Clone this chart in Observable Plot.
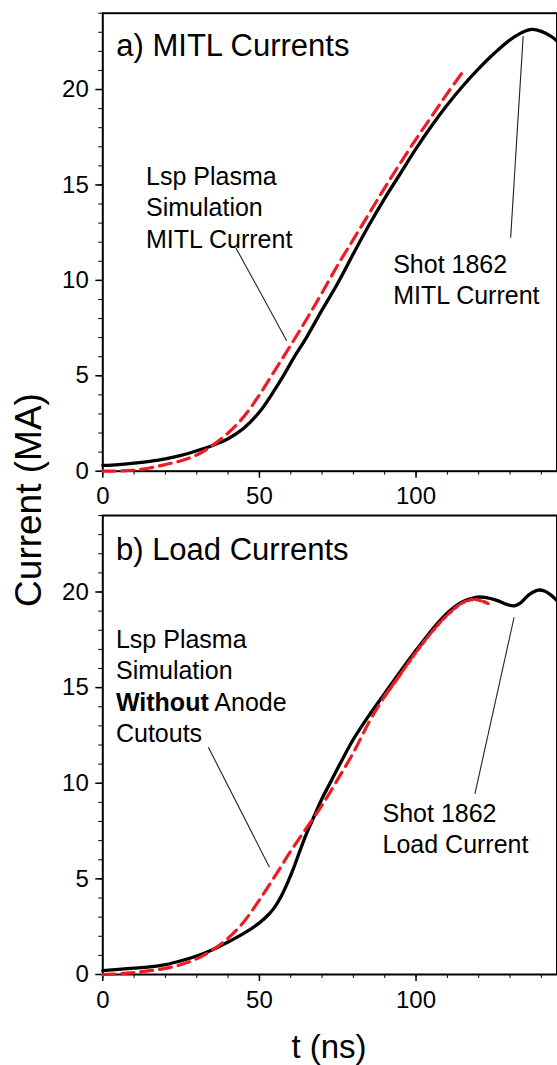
<!DOCTYPE html>
<html>
<head>
<meta charset="utf-8">
<script src="https://cdn.jsdelivr.net/npm/d3@7"></script>
<script src="https://cdn.jsdelivr.net/npm/@observablehq/plot@0.6"></script>
<style>
html, body { margin:0; padding:0; background:#fff; }
#chart { position:relative; width:557px; height:1065px; overflow:hidden; font-family:"Liberation Sans", Arial, sans-serif; color:#000; }
#chart svg { position:absolute; left:0; }
#ylabel { position:absolute; left:28px; top:500px; transform: translate(-50%,-50%) rotate(-90deg); font-size:37px; white-space:nowrap; line-height:1; }
#xlabel { position:absolute; left:329px; top:1047px; transform: translate(-50%,-50%); font-size:33px; white-space:nowrap; line-height:1.1; }
</style>
</head>
<body>
<div id="chart"><div id="ylabel">Current (MA)</div><div id="xlabel">t (ns)</div></div>
<script>
// ---------- data ----------
// Panel a: MITL currents
const tShotA = [0,5,10,15,20,25,30,35,40,45,50,55,58,61,65,70,75,80,85,90,95,100,105,110,115,120,125,130,134,137,140,143,145];
const iShotA = [0.3,0.35,0.42,0.52,0.65,0.83,1.07,1.35,1.7,2.25,3.1,4.3,5.1,5.95,7.0,8.45,9.85,11.4,12.9,14.3,15.6,16.9,18.1,19.2,20.2,21.1,21.9,22.6,23.0,23.15,23.05,22.8,22.55];
const tSimA = [0,5,10,15,20,25,30,35,40,45,50,55,60,65,70,75,80,85,90,95,100,105,110,115.5];
const iSimA = [0,0.01,0.05,0.17,0.35,0.55,0.85,1.35,2.0,2.85,4.0,5.3,6.6,7.95,9.35,10.8,12.15,13.5,14.85,16.15,17.4,18.6,19.8,21.05];

// Panel b: Load currents
const tShotB = [0,5,10,15,20,25,30,35,40,45,50,53,55,57,59,61,63,65,67,70,73,76,80,85,90,95,100,105,110,115,119,122,126,129,131.5,133.5,136,139,141,143,145];
const iShotB = [0.2,0.27,0.33,0.4,0.52,0.72,0.97,1.3,1.7,2.15,2.7,3.15,3.55,4.1,4.8,5.6,6.5,7.35,8.1,9.2,10.15,11.1,12.3,13.55,14.7,15.85,16.95,18.0,18.9,19.5,19.72,19.72,19.55,19.35,19.28,19.45,19.85,20.1,20.05,19.85,19.55];
const tSimB = [0,5,10,15,20,25,30,35,40,45,50,55,60,65,70,75,80,85,90,95,100,105,110,115,119,123];
const iSimB = [0,0.03,0.1,0.2,0.32,0.52,0.82,1.28,1.9,2.75,3.9,5.15,6.45,7.65,8.85,10.2,11.6,13.2,14.55,15.7,16.85,17.9,18.8,19.45,19.6,19.4];
const dotFromB = 92; // simulation drawn dotted beyond this time

// axes
const xDomain = [0, 145];
const yDomain = [0, 24];
const xMajorTicks = [0, 50, 100];
const xMinorTicks = [0,10,20,30,40,50,60,70,80,90,100,110,120,130,140];
const yMajorTicks = [0, 5, 10, 15, 20];
const yMinorTicks = [0,1,2,3,4,5,6,7,8,9,10,11,12,13,14,15,16,17,18,19,20,21,22,23,24];

// annotations (data coordinates)
const titleA = ["a) MITL Currents"]; const titleAT = [4.3]; const titleAI = [21.74];
const titleB = ["b) Load Currents"]; const titleBT = [4.2]; const titleBI = [21.65];
const notesA = ["Lsp Plasma\nSimulation\nMITL Current", "Shot 1862\nMITL Current"];
const notesAT = [13.8, 92.7];
const notesAI = [11.72, 8.76];
const notesB = ["Lsp Plasma\nSimulation\nWithout Anode\nCutouts", "Shot 1862\nLoad Current"];
const notesBT = [4.2, 89.3];
const notesBI = [12.15, 6.34];
const leadA_t1 = [42.5, 134.2], leadA_i1 = [11.7, 22.8], leadA_t2 = [58.7, 130.2], leadA_i2 = [6.84, 12.24];
const leadB_t1 = [33.7, 131.3], leadB_i1 = [11.88, 18.68], leadB_t2 = [53.2, 118.8], leadB_i2 = [5.61, 9.45];

// ---------- build ----------
const zip = (ts, is) => ts.map((t, k) => ({t, I: is[k]}));
const shotA = zip(tShotA, iShotA), simA = zip(tSimA, iSimA);
const shotB = zip(tShotB, iShotB), simB = zip(tSimB, iSimB);
const texts = (s, ts, is) => s.map((text, k) => ({text, t: ts[k], I: is[k]}));
const links = (t1, i1, t2, i2) => t1.map((_, k) => ({t1: t1[k], i1: i1[k], t2: t2[k], i2: i2[k]}));

const FONT = "Liberation Sans, Arial, sans-serif";
const RED = "#ed1c24";
const W = 557, H = 510, ML = 102.3, MR = 0.5;

function panel({top, bottom, shot, simMarks, title, notes, leads}) {
  const innerH = H - top - bottom, innerW = W - ML - MR;
  return Plot.plot({
    width: W, height: H,
    marginLeft: ML, marginRight: MR, marginTop: top, marginBottom: bottom,
    style: {fontFamily: FONT, fontSize: "24px", background: "transparent", color: "black", overflow: "visible"},
    x: {domain: xDomain, ticks: xMinorTicks, tickSize: 4, tickPadding: 12, label: null,
        tickFormat: d => xMajorTicks.includes(d) ? String(d) : ""},
    y: {domain: yDomain, ticks: yMinorTicks, tickSize: 4, tickPadding: 10, label: null,
        tickFormat: d => yMajorTicks.includes(d) ? String(d) : ""},
    marks: [
      // longer major ticks
      Plot.ruleX(xMajorTicks, {x: d => d, insetTop: innerH, insetBottom: -7, stroke: "black", strokeWidth: 1.5}),
      Plot.ruleY(yMajorTicks, {y: d => d, insetLeft: -7, insetRight: innerW, stroke: "black", strokeWidth: 1.5}),
      Plot.frame({stroke: "black", strokeWidth: 2}),
      Plot.line(shot, {x: "t", y: "I", stroke: "black", strokeWidth: 3.3, curve: "catmull-rom"}),
      ...simMarks,
      Plot.link(leads, {x1: "t1", y1: "i1", x2: "t2", y2: "i2", stroke: "#222", strokeWidth: 1.1}),
      Plot.text(title, {x: "t", y: "I", text: "text", textAnchor: "start", lineAnchor: "bottom", fontSize: 31, fill: "black"}),
      Plot.text(notes, {x: "t", y: "I", text: "text", textAnchor: "start", lineAnchor: "bottom", fontSize: 25, lineHeight: 1.26, fill: "black"})
    ]
  });
}

const chart = document.getElementById("chart");

const svgA = panel({
  top: 12.7, bottom: 39.3, shot: shotA,
  simMarks: [Plot.line(simA, {x: "t", y: "I", stroke: RED, strokeWidth: 3.2, strokeDasharray: "12,7", curve: "catmull-rom"})],
  title: texts(titleA, titleAT, titleAI),
  notes: texts(notesA, notesAT, notesAI),
  leads: links(leadA_t1, leadA_i1, leadA_t2, leadA_i2)
});
svgA.style.top = "0px";
chart.appendChild(svgA);

const svgB = panel({
  top: 10, bottom: 41, shot: shotB,
  simMarks: [
    Plot.line(simB.filter(d => d.t <= dotFromB + 3), {x: "t", y: "I", stroke: RED, strokeWidth: 3.2, strokeDasharray: "12,7", curve: "catmull-rom"}),
    Plot.line(simB.filter(d => d.t >= dotFromB - 2), {x: "t", y: "I", stroke: RED, strokeWidth: 3.3, strokeDasharray: "5,3", curve: "catmull-rom"})
  ],
  title: texts(titleB, titleBT, titleBI),
  notes: texts(notesB, notesBT, notesBI),
  leads: links(leadB_t1, leadB_i1, leadB_t2, leadB_i2)
});
svgB.style.top = "505px";
chart.appendChild(svgB);

// bold "Without"
svgB.querySelectorAll("tspan").forEach(ts => {
  if (ts.textContent === "Without Anode") {
    ts.textContent = "";
    const b = document.createElementNS("http://www.w3.org/2000/svg", "tspan");
    b.setAttribute("font-weight", "bold");
    b.textContent = "Without";
    ts.appendChild(b);
    ts.appendChild(document.createTextNode(" Anode"));
  }
});
</script>
</body>
</html>
